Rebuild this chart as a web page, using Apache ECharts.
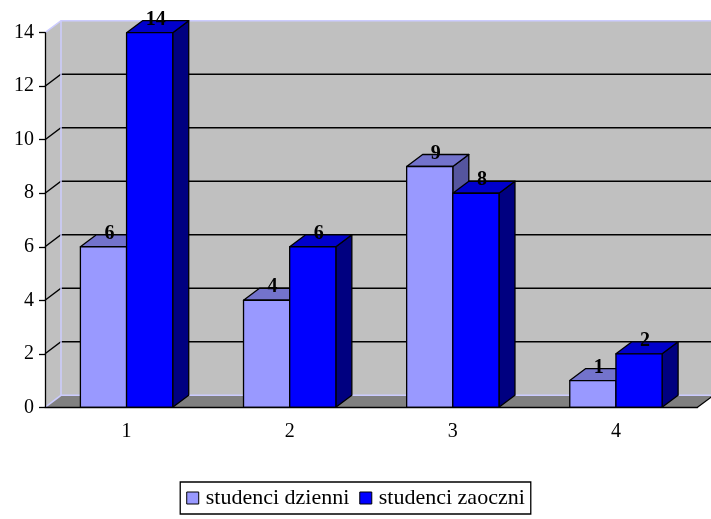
<!DOCTYPE html>
<html>
<head>
<meta charset="utf-8">
<script src="https://cdn.jsdelivr.net/npm/echarts@6/dist/echarts.min.js"></script>
<style>
  html, body { margin: 0; padding: 0; background: #fff; }
  #chart { width: 711px; height: 519px; }
</style>
</head>
<body>
<div id="chart"></div>
<script>
// Liczba studentów w czterech grupach
const categories = ['1', '2', '3', '4'];
const seriesNames = ['studenci dzienni', 'studenci zaoczni'];
const dzienni = [6, 4, 9, 1];
const zaoczni = [14, 6, 8, 2];
const yMin = 0, yMax = 14, yStep = 2;

const FONT = "'Liberation Serif', 'Times New Roman', serif";
const DEPTH_X = 16, DEPTH_Y = -12;     // perspective offset of the 3D box
const BAR_RATIO = 0.283;               // bar width as a share of the category band

const faces = {
  dzienni: { front: '#9999FF', top: '#7373CC', side: '#55559E' },
  zaoczni: { front: '#0000FF', top: '#0000CC', side: '#000080' }
};

// Back wall, side wall, floor and gridlines of the 3D plot area
function renderWalls(params, api) {
  const cs = params.coordSys;
  const xl = cs.x, xr = cs.x + cs.width;
  const y0 = api.coord([0, yMin])[1];
  const yT = api.coord([0, yMax])[1];
  const dx = DEPTH_X, dy = DEPTH_Y;
  const wallFill = '#C0C0C0', edge = '#CCCCFF';
  const children = [
    { type: 'polygon', shape: { points: [[xl + dx, yT + dy], [xr + dx + 20, yT + dy], [xr + dx + 20, y0 + dy], [xl + dx, y0 + dy]] },
      style: { fill: wallFill } },
    { type: 'polygon', shape: { points: [[xl, y0], [xl + dx, y0 + dy], [xl + dx, yT + dy], [xl, yT]] },
      style: { fill: wallFill } },
    { type: 'polygon', shape: { points: [[xl, y0], [xr, y0], [xr + dx, y0 + dy], [xl + dx, y0 + dy]] },
      style: { fill: '#808080' } }
  ];
  for (let v = yMin + yStep; v < yMax; v += yStep) {
    const y = api.coord([0, v])[1];
    children.push({ type: 'polyline',
      shape: { points: [[xl, y], [xl + dx, y + dy], [xr + dx + 20, y + dy]] },
      style: { stroke: '#000', lineWidth: 1.4, fill: null } });
  }
  const edges = [
    [[xl, yT], [xl + dx, yT + dy], [xr + dx + 20, yT + dy]],
    [[xl + dx, yT + dy], [xl + dx, y0 + dy]],
    [[xl, y0], [xl + dx, y0 + dy], [xr + dx + 20, y0 + dy]]
  ];
  edges.forEach(function (pts) {
    children.push({ type: 'polyline', shape: { points: pts },
      style: { stroke: edge, lineWidth: 1.5, fill: null } });
  });
  children.push({ type: 'polyline', shape: { points: [[xr, y0], [xr + dx, y0 + dy]] },
    style: { stroke: '#000', lineWidth: 1.2, fill: null } });
  return { type: 'group', children: children };
}

// 3D box bar: side = -1 draws left of the category centre, +1 right of it
function boxRenderer(side, col) {
  return function (params, api) {
    const i = api.value(0), v = api.value(1);
    const top = api.coord([i, v]);
    const base = api.coord([i, yMin]);
    const band = api.size([1, 0])[0];
    const w = band * BAR_RATIO;
    const x0 = side < 0 ? top[0] - w : top[0];
    const x1 = x0 + w;
    const yT = top[1], yB = base[1];
    const dx = DEPTH_X, dy = DEPTH_Y;
    const stroke = { stroke: '#000', lineWidth: 1.3, lineJoin: 'round' };
    return {
      type: 'group',
      children: [
        { type: 'polygon', shape: { points: [[x1, yT], [x1 + dx, yT + dy], [x1 + dx, yB + dy], [x1, yB]] },
          style: Object.assign({ fill: col.side }, stroke) },
        { type: 'polygon', shape: { points: [[x0, yT], [x1, yT], [x1 + dx, yT + dy], [x0 + dx, yT + dy]] },
          style: Object.assign({ fill: col.top }, stroke) },
        { type: 'polygon', shape: { points: [[x0, yT], [x1, yT], [x1, yB], [x0, yB]] },
          style: Object.assign({ fill: col.front }, stroke) },
        { type: 'text', z2: 100,
          style: { x: x0 + w / 2 + 6, y: yT - 13, text: String(v),
            fill: '#000', font: 'bold 20px ' + FONT, align: 'center', verticalAlign: 'middle' } }
      ]
    };
  };
}

const chart = echarts.init(document.getElementById('chart'), null, { renderer: 'canvas' });
chart.setOption({
  animation: false,
  backgroundColor: '#ffffff',
  grid: { left: 45, top: 32.7, width: 652.5, height: 374.6, containLabel: false },
  xAxis: {
    type: 'category', data: categories, z: 5,
    axisLine: { lineStyle: { color: '#000', width: 1.3 } },
    axisTick: { length: 6, lineStyle: { color: '#000', width: 1.3 } },
    axisLabel: { color: '#000', fontFamily: FONT, fontSize: 20, margin: 14 },
    splitLine: { show: false }
  },
  yAxis: {
    type: 'value', min: yMin, max: yMax, interval: yStep, z: 5,
    axisLine: { show: true, lineStyle: { color: '#000', width: 1.3 } },
    axisTick: { show: true, length: 6, lineStyle: { color: '#000', width: 1.3 } },
    axisLabel: { color: '#000', fontFamily: FONT, fontSize: 20, margin: 11 },
    splitLine: { show: false }
  },
  legend: {
    data: seriesNames,
    left: 'center', top: 482,
    icon: 'rect', itemWidth: 12, itemHeight: 12, itemGap: 10,
    padding: [5, 6, 5, 6],
    borderColor: '#000', borderWidth: 1.3,
    itemStyle: { borderColor: '#000', borderWidth: 1 },
    textStyle: { color: '#000', fontFamily: FONT, fontSize: 22, padding: [0, 0, 0, 2] }
  },
  series: [
    { type: 'custom', name: 'walls', z: 1, silent: true,
      renderItem: renderWalls, data: [[0, 0]], encode: { x: 0, y: 1 } },
    { type: 'custom', name: seriesNames[0], z: 2,
      itemStyle: { color: faces.dzienni.front },
      renderItem: boxRenderer(-1, faces.dzienni),
      data: dzienni.map(function (v, i) { return [i, v]; }), encode: { x: 0, y: 1 } },
    { type: 'custom', name: seriesNames[1], z: 2,
      itemStyle: { color: faces.zaoczni.front },
      renderItem: boxRenderer(1, faces.zaoczni),
      data: zaoczni.map(function (v, i) { return [i, v]; }), encode: { x: 0, y: 1 } }
  ]
});
</script>
</body>
</html>
